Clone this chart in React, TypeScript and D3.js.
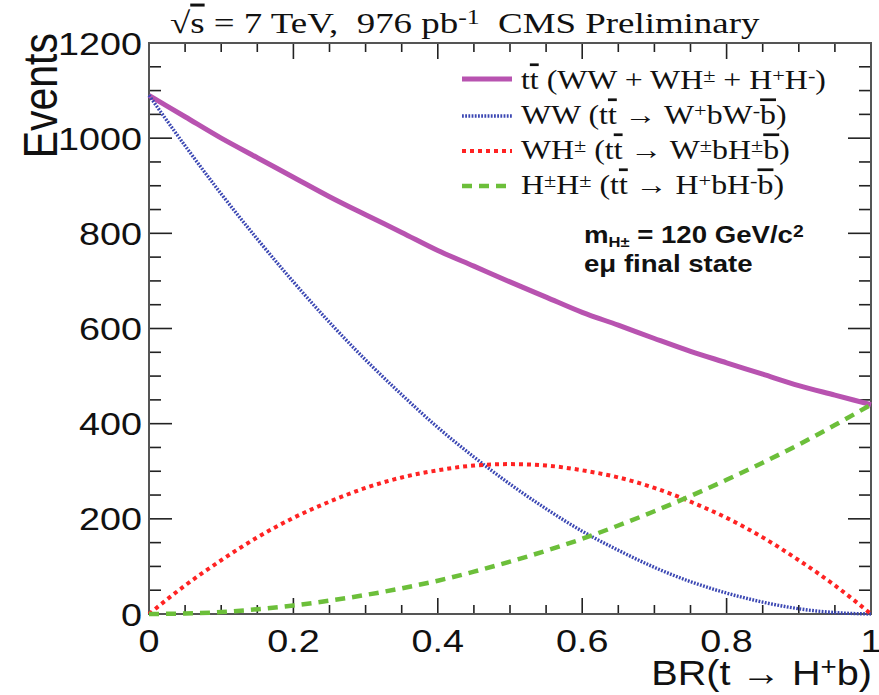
import React from 'react';
import * as d3 from 'd3';

// ---- data ----
const branching = [0, 0.05, 0.1, 0.15, 0.2, 0.25, 0.3, 0.35, 0.4, 0.45, 0.5, 0.55, 0.6, 0.65, 0.7, 0.75, 0.8, 0.85, 0.9, 0.95, 1];
const totalEvents = [1090, 1045, 1000, 959, 918, 877, 839, 802, 764, 731, 698, 666, 634, 607, 579, 552, 528, 504, 480, 460, 440];
const wwEvents = [1090, 984, 883, 788, 698, 613, 534, 461, 392, 330, 273, 221, 174, 134, 98, 68, 44, 25, 11, 3, 0];
const whEvents = [0, 60, 113, 161, 202, 236, 265, 287, 302, 312, 315, 312, 302, 287, 265, 236, 202, 161, 113, 60, 0];
const hhEvents = [0, 1, 4, 10, 18, 28, 40, 54, 70, 89, 110, 133, 158, 186, 216, 248, 282, 318, 356, 397, 440];

const xMajorTicks = [0, 0.2, 0.4, 0.6, 0.8, 1];
const xTickLabels = ['0', '0.2', '0.4', '0.6', '0.8', '1'];
const yMajorTicks = [0, 200, 400, 600, 800, 1000, 1200];
const yTickLabels = ['0', '200', '400', '600', '800', '1000', '1200'];

const W = 879, H = 695;
const L = 149, R = 871, T = 43, B = 614;
const SX = 1.18;
const SANS = "'Liberation Sans', Arial, sans-serif";
const SERIF = "'Liberation Serif', 'Times New Roman', serif";
const ARROW = '\u2192';

const x = d3.scaleLinear().domain([0, 1]).range([L, R]);
const y = d3.scaleLinear().domain([0, 1200]).range([B, T]);

const series = [
  { values: totalEvents, color: '#b853b0', width: 5, dash: undefined as string | undefined },
  { values: wwEvents, color: '#3b47b3', width: 3.4, dash: '1.8 1.4' },
  { values: whEvents, color: '#ff2323', width: 4, dash: '4 4' },
  { values: hhEvents, color: '#6cbf3a', width: 4.5, dash: '10 7' },
];

const Sup = ({ children }: { children: React.ReactNode }) => (
  <tspan baselineShift="40%" fontSize="70%">{children}</tspan>
);
const Sub = ({ children }: { children: React.ReactNode }) => (
  <tspan baselineShift="-25%" fontSize="60%">{children}</tspan>
);
const Bar = ({ children }: { children: React.ReactNode }) => (
  <tspan style={{ textDecoration: 'overline' }}>{children}</tspan>
);

const Stretch = ({ tx, ty, sx = SX, children }: { tx: number; ty: number; sx?: number; children: React.ReactNode }) => (
  <g transform={`translate(${tx},${ty}) scale(${sx},1)`}>{children}</g>
);

export default function App() {
  const line = d3
    .line<number>()
    .x((_, i) => x(branching[i]))
    .y((d) => y(d))
    .curve(d3.curveMonotoneX);

  const xMinor = d3.range(0, 1.0001, 0.05);
  const yMinor = d3.range(0, 1200.1, 50);
  const axisColor = '#555';
  const LF = 27; // legend font
  const legendRows = [79, 116, 151, 186];
  const legendBase = [89, 124, 159, 194];

  return (
    <svg width={W} height={H} style={{ position: 'absolute', left: 0, top: 0, background: '#fff' }}>
      <rect x={0} y={0} width={W} height={H} fill="#fff" />
      {/* ticks */}
      {xMinor.map((v, i) => {
        const major = xMajorTicks.some((m) => Math.abs(m - v) < 1e-6);
        const len = major ? 16 : 9;
        return (
          <g key={'xt' + i}>
            <line x1={x(v)} x2={x(v)} y1={B} y2={B - len} stroke="#222" strokeWidth={1.6} />
            <line x1={x(v)} x2={x(v)} y1={T} y2={T + len} stroke="#222" strokeWidth={1.6} />
          </g>
        );
      })}
      {yMinor.map((v, i) => {
        const major = yMajorTicks.some((m) => Math.abs(m - v) < 1e-6);
        const len = major ? 23 : 12;
        return (
          <g key={'yt' + i}>
            <line x1={L} x2={L + len} y1={y(v)} y2={y(v)} stroke="#222" strokeWidth={1.6} />
            <line x1={R} x2={R - len} y1={y(v)} y2={y(v)} stroke="#222" strokeWidth={1.6} />
          </g>
        );
      })}
      {/* frame */}
      <rect x={L} y={T} width={R - L} height={B - T} fill="none" stroke={axisColor} strokeWidth={2} />

      {/* curves */}
      {series.map((s, i) => (
        <path
          key={'s' + i}
          d={line(s.values) || ''}
          fill="none"
          stroke={s.color}
          strokeWidth={s.width}
          strokeDasharray={s.dash}
        />
      ))}

      {/* y tick labels */}
      {yMajorTicks.map((v, i) => (
        <Stretch key={'yl' + i} tx={142} ty={y(v) + 11.5}>
          <text textAnchor="end" fontFamily={SANS} fontSize={32} fill="#111">
            {yTickLabels[i]}
          </text>
        </Stretch>
      ))}
      {/* x tick labels */}
      {xMajorTicks.map((v, i) => (
        <Stretch key={'xl' + i} tx={x(v)} ty={652}>
          <text textAnchor="middle" fontFamily={SANS} fontSize={32} fill="#111">
            {xTickLabels[i]}
          </text>
        </Stretch>
      ))}

      {/* axis titles */}
      <g transform={`translate(57,33) scale(${SX},1) rotate(-90)`}>
        <text textAnchor="end" fontFamily={SANS} fontSize={41} fill="#111">Events</text>
      </g>
      <Stretch tx={872} ty={685} sx={1.1}>
        <text textAnchor="end" fontFamily={SANS} fontSize={36} fill="#111">
          BR(t → H<Sup>+</Sup>b)
        </text>
      </Stretch>

      {/* title */}
      <Stretch tx={170} ty={33} sx={1.23}>
        <text fontFamily={SERIF} fontSize={30} fill="#111">
          √<Bar>s</Bar> = 7 TeV,{'\u00a0\u00a0'}976 pb<Sup>-1</Sup>{'\u00a0\u00a0'}CMS Preliminary
        </text>
      </Stretch>

      {/* legend */}
      {series.map((s, i) => (
        <line
          key={'lg' + i}
          x1={462}
          x2={512}
          y1={legendRows[i]}
          y2={legendRows[i]}
          stroke={s.color}
          strokeWidth={s.width}
          strokeDasharray={s.dash}
        />
      ))}
      <Stretch tx={521} ty={legendBase[0]}>
        <text fontFamily={SERIF} fontSize={LF} fill="#111">
          t<Bar>t</Bar> (WW + WH<Sup>±</Sup> + H<Sup>+</Sup>H<Sup>-</Sup>)
        </text>
      </Stretch>
      <Stretch tx={521} ty={legendBase[1]}>
        <text fontFamily={SERIF} fontSize={LF} fill="#111">
          WW (t<Bar>t</Bar> {ARROW} W<Sup>+</Sup>bW<Sup>-</Sup><Bar>b</Bar>)
        </text>
      </Stretch>
      <Stretch tx={521} ty={legendBase[2]}>
        <text fontFamily={SERIF} fontSize={LF} fill="#111">
          WH<Sup>±</Sup> (t<Bar>t</Bar> {ARROW} W<Sup>±</Sup>bH<Sup>±</Sup><Bar>b</Bar>)
        </text>
      </Stretch>
      <Stretch tx={521} ty={legendBase[3]}>
        <text fontFamily={SERIF} fontSize={LF} fill="#111">
          H<Sup>±</Sup>H<Sup>±</Sup> (t<Bar>t</Bar> {ARROW} H<Sup>+</Sup>bH<Sup>-</Sup><Bar>b</Bar>)
        </text>
      </Stretch>

      {/* info */}
      <Stretch tx={584} ty={243} sx={1.2}>
        <text fontFamily={SANS} fontWeight="bold" fontSize={23} fill="#111">
          m<Sub>H±</Sub> = 120 GeV/c<Sup>2</Sup>
        </text>
      </Stretch>
      <Stretch tx={584} ty={272} sx={1.2}>
        <text fontFamily={SANS} fontWeight="bold" fontSize={23} fill="#111">
          eμ final state
        </text>
      </Stretch>
    </svg>
  );
}
